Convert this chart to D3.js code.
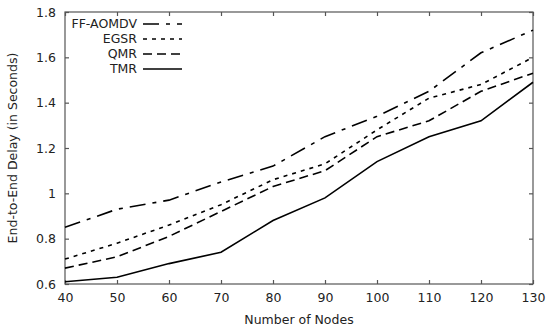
<!DOCTYPE html>
<html><head><meta charset="utf-8">
<script src="https://cdn.jsdelivr.net/npm/d3@7"></script>
<style>body{margin:0;background:#fff}svg{display:block}text{font-family:"DejaVu Sans",sans-serif}</style>
</head><body><svg id="c" width="550" height="330"></svg>
<script>
const nodes = [40,50,60,70,80,90,100,110,120,130];
const ffAomdv = [0.85,0.93,0.97,1.05,1.12,1.25,1.34,1.45,1.62,1.72];
const egsr = [0.71,0.78,0.86,0.95,1.06,1.13,1.28,1.42,1.48,1.60];
const qmr = [0.67,0.72,0.81,0.92,1.03,1.10,1.25,1.32,1.45,1.53];
const tmr = [0.61,0.63,0.69,0.74,0.88,0.98,1.14,1.25,1.32,1.49];
const seriesNames = ["FF-AOMDV","EGSR","QMR","TMR"];
const seriesVals = [ffAomdv, egsr, qmr, tmr];
const dashes = ["16,7,4,7","4,5","9,5",null];
const xTicks = [40,50,60,70,80,90,100,110,120,130];
const yTicks = [0.6,0.8,1.0,1.2,1.4,1.6,1.8];

const svg = d3.select("#c");
const L=65,R=533,T=12,B=284;
const x = d3.scaleLinear().domain([40,130]).range([L,R]);
const y = d3.scaleLinear().domain([0.6,1.8]).range([B,T]);
const axisCol="#555";

// frame
svg.append("rect").attr("x",L).attr("y",T).attr("width",R-L).attr("height",B-T)
  .attr("fill","none").attr("stroke",axisCol).attr("stroke-width",1.2);

const fmtY = d => d===1 ? "1" : d3.format(".1f")(d);
const gx = svg.append("g").attr("transform",`translate(0,${B})`)
  .call(d3.axisBottom(x).tickValues(xTicks).tickSize(-4).tickPadding(9));
const gxt = svg.append("g").attr("transform",`translate(0,${T})`)
  .call(d3.axisTop(x).tickValues(xTicks).tickSize(-4).tickFormat(""));
const gy = svg.append("g").attr("transform",`translate(${L},0)`)
  .call(d3.axisLeft(y).tickValues(yTicks).tickSize(-4).tickPadding(9).tickFormat(fmtY));
const gyr = svg.append("g").attr("transform",`translate(${R},0)`)
  .call(d3.axisRight(y).tickValues(yTicks).tickSize(-4).tickFormat(""));
[gx,gxt,gy,gyr].forEach(g=>{
  g.select(".domain").remove();
  g.selectAll("line").attr("stroke",axisCol).attr("stroke-width",1.2);
  g.selectAll("text").attr("fill","#222").style("font-size","12.5px").style("font-family","DejaVu Sans");
});

const line = d3.line().x((d,i)=>x(nodes[i])).y(d=>y(d));
seriesVals.forEach((vals,k)=>{
  svg.append("path").datum(vals).attr("d",line).attr("fill","none")
    .attr("stroke","#000").attr("stroke-width",1.6)
    .attr("stroke-dasharray",dashes[k]);
});

// legend
const ly=[24,39,54,69];
seriesNames.forEach((n,k)=>{
  svg.append("text").attr("x",137).attr("y",ly[k]).attr("dy","0.35em")
    .attr("text-anchor","end").style("font-size","12.5px").attr("fill","#222").text(n);
  svg.append("line").attr("x1",143).attr("x2",182).attr("y1",ly[k]).attr("y2",ly[k])
    .attr("stroke","#000").attr("stroke-width",1.6).attr("stroke-dasharray",dashes[k]);
});

svg.append("text").attr("x",(L+R)/2).attr("y",324).attr("text-anchor","middle")
  .style("font-size","12.5px").attr("fill","#222").text("Number of Nodes");
svg.append("text").attr("transform",`translate(17,${(T+B)/2}) rotate(-90)`)
  .attr("text-anchor","middle").style("font-size","12.5px").attr("fill","#222")
  .text("End-to-End Delay (in Seconds)");
</script></body></html>
